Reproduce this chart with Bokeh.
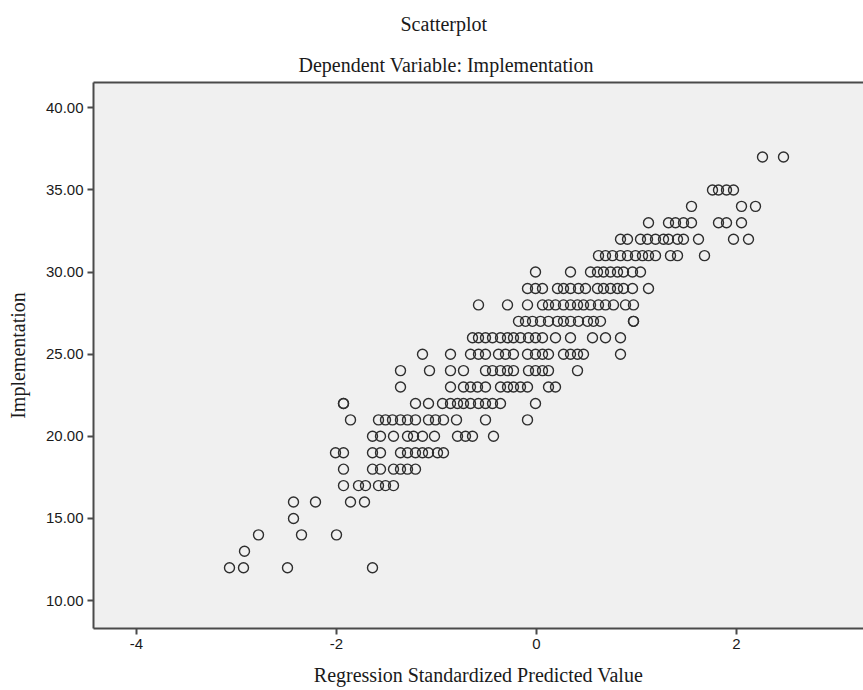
from bokeh.plotting import figure
from bokeh.models import (Range1d, Title, FixedTicker, LinearAxis,
                          ColumnDataSource, PrintfTickFormatter)
from bokeh.embed import file_html
from bokeh.resources import INLINE

# Regression standardized predicted values, grouped by observed Implementation score
pred_12 = [-3.07, -2.93, -2.49, -1.64]
pred_13 = [-2.92]
pred_14 = [-2.78, -2.35, -2.00]
pred_15 = [-2.43]
pred_16 = [-2.43, -2.21, -1.86, -1.72]
pred_17 = [-1.93, -1.78, -1.71, -1.58, -1.51, -1.43]
pred_18 = [-1.93, -1.64, -1.56, -1.43, -1.36, -1.29, -1.21]
pred_19 = [-2.01, -1.93, -1.64, -1.56, -1.36, -1.29, -1.21, -1.14, -1.08, -0.99, -0.93]
pred_20 = [-1.64, -1.56, -1.43, -1.29, -1.23, -1.14, -1.02, -0.79, -0.71, -0.64, -0.43]
pred_21 = [-1.86, -1.58, -1.51, -1.44, -1.36, -1.29, -1.21, -1.08, -1.01, -0.93, -0.80,
           -0.51, -0.09]
pred_22 = [-1.93, -1.93, -1.21, -1.08, -0.94, -0.86, -0.79, -0.73, -0.66, -0.58, -0.51,
           -0.44, -0.36, -0.01]
pred_23 = [-1.36, -0.86, -0.73, -0.66, -0.59, -0.51, -0.36, -0.29, -0.23, -0.16, -0.09,
           0.12, 0.19]
pred_24 = [-1.36, -1.07, -0.86, -0.73, -0.51, -0.44, -0.36, -0.29, -0.23, -0.08, -0.01,
           0.06, 0.12, 0.41]
pred_25 = [-1.14, -0.86, -0.66, -0.58, -0.51, -0.38, -0.31, -0.23, -0.09, -0.01, 0.06,
           0.12, 0.27, 0.34, 0.41, 0.47, 0.84]
pred_26 = [-0.64, -0.58, -0.51, -0.44, -0.36, -0.29, -0.23, -0.16, -0.08, -0.01, 0.06,
           0.19, 0.34, 0.56, 0.69, 0.84]
pred_27 = [-0.18, -0.11, -0.04, 0.04, 0.12, 0.21, 0.27, 0.34, 0.42, 0.51, 0.57, 0.64,
           0.97, 0.97]
pred_28 = [-0.58, -0.29, -0.09, 0.06, 0.12, 0.19, 0.27, 0.34, 0.41, 0.47, 0.54, 0.62,
           0.69, 0.77, 0.89, 0.97]
pred_29 = [-0.09, -0.01, 0.06, 0.21, 0.27, 0.34, 0.42, 0.49, 0.61, 0.67, 0.74, 0.81,
           0.87, 0.96, 1.12]
pred_30 = [-0.01, 0.34, 0.54, 0.61, 0.67, 0.74, 0.81, 0.87, 0.96, 1.04]
pred_31 = [0.62, 0.69, 0.76, 0.84, 0.91, 0.99, 1.06, 1.12, 1.19, 1.34, 1.41, 1.68]
pred_32 = [0.84, 0.91, 1.04, 1.11, 1.19, 1.27, 1.32, 1.41, 1.47, 1.62, 1.97, 2.12]
pred_33 = [1.12, 1.32, 1.39, 1.47, 1.55, 1.82, 1.90, 2.05]
pred_34 = [1.55, 2.05, 2.19]
pred_35 = [1.76, 1.82, 1.90, 1.97]
pred_37 = [2.26, 2.47]

scores = [12, 13, 14, 15, 16, 17, 18, 19, 20, 21, 22, 23, 24, 25, 26, 27, 28, 29, 30,
          31, 32, 33, 34, 35, 37]
predicted = [pred_12, pred_13, pred_14, pred_15, pred_16, pred_17, pred_18, pred_19,
             pred_20, pred_21, pred_22, pred_23, pred_24, pred_25, pred_26, pred_27,
             pred_28, pred_29, pred_30, pred_31, pred_32, pred_33, pred_34, pred_35,
             pred_37]

x_ticks = [-4, -2, 0, 2]
y_ticks = [10, 15, 20, 25, 30, 35, 40]

xs, ys = [], []
for score, preds in zip(scores, predicted):
    xs.extend(preds)
    ys.extend([score] * len(preds))
source = ColumnDataSource(data=dict(x=xs, y=ys))

AXIS = "#4a4a4a"
TEXT = "#1a1a1a"
SERIF = "Liberation Serif"
SANS = "Liberation Sans"

p = figure(width=863, height=690, output_backend="svg", toolbar_location=None,
           title_location=None,
           x_range=Range1d(-4.43, 3.27), y_range=Range1d(8.30, 41.54),
           min_border_left=93, min_border_right=0, min_border_top=79,
           min_border_bottom=62)
p.background_fill_color = "#f0f0f0"
p.border_fill_color = "white"
p.outline_line_color = None
p.xgrid.visible = False
p.ygrid.visible = False

for ax in (p.xaxis[0], p.yaxis[0]):
    ax.axis_line_color = AXIS
    ax.axis_line_width = 2
    ax.major_tick_line_color = AXIS
    ax.major_tick_line_width = 2
    ax.major_tick_in = 0
    ax.major_tick_out = 6
    ax.minor_tick_line_color = None
    ax.major_label_text_font = SANS
    ax.major_label_text_font_size = "15px"
    ax.major_label_text_color = TEXT
    ax.major_label_standoff = 4
    ax.axis_label_text_font = SERIF
    ax.axis_label_text_font_size = "20px"
    ax.axis_label_text_font_style = "normal"
    ax.axis_label_text_color = TEXT

p.xaxis.axis_label_standoff = 12
p.yaxis.axis_label_standoff = 14
p.xaxis.ticker = FixedTicker(ticks=x_ticks)
p.yaxis.ticker = FixedTicker(ticks=y_ticks)
p.xaxis.formatter = PrintfTickFormatter(format="%d")
p.yaxis.formatter = PrintfTickFormatter(format="%.2f")
p.xaxis.axis_label = "Regression Standardized Predicted Value"
p.yaxis.axis_label = "Implementation"

# plain rule closing the top of the plotting area
top = LinearAxis(ticker=FixedTicker(ticks=[]), major_tick_out=0, major_tick_in=0,
                 major_label_standoff=0, minor_tick_line_color=None,
                 axis_line_color=AXIS, axis_line_width=2)
p.add_layout(top, "above")

# titles stacked outward from the plotting area
p.add_layout(Title(text="Dependent Variable: Implementation", align="left", offset=205,
                   standoff=14, text_font=SERIF, text_font_size="20px",
                   text_font_style="normal", text_color=TEXT), "above")
p.add_layout(Title(text="Scatterplot", align="left", offset=307, standoff=20,
                   text_font=SERIF, text_font_size="20px", text_font_style="normal",
                   text_color=TEXT), "above")

p.scatter("x", "y", source=source, marker="circle", size=10, fill_color=None,
          line_color="#2e2e2e", line_width=1.4)

open("out.html", "w").write(file_html(p, INLINE))
